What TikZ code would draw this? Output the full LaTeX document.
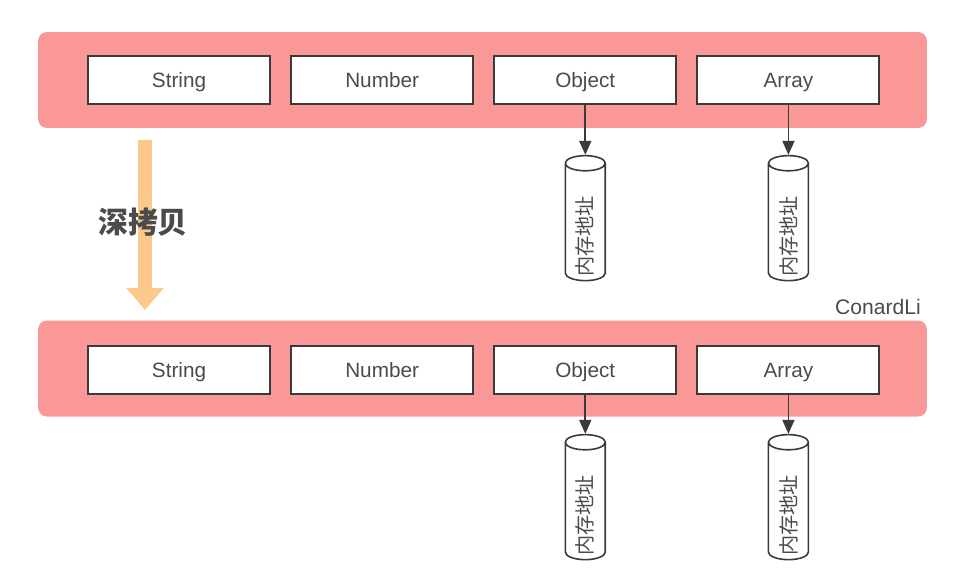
\documentclass[tikz,border=0pt]{standalone}
\usepackage{fontspec}
\setmainfont{Liberation Sans}
\newfontfamily\cjk{Noto Sans CJK SC}
\usepackage{tikz}
\usetikzlibrary{shapes.geometric, arrows.meta, positioning}
\definecolor{bandred}{RGB}{250, 152, 152}
\definecolor{copyorange}{RGB}{252, 200, 140}
\definecolor{inkgray}{RGB}{58, 58, 58}
\definecolor{textgray}{RGB}{75, 75, 75}

\begin{document}
\begin{tikzpicture}[
    x=0.02cm, y=-0.02cm,
    node distance = 0.385cm,
    band/.style   = {rectangle, rounded corners=5pt, fill=bandred, draw=none,
                     minimum width=17.78cm, minimum height=1.92cm},
    field/.style  = {rectangle, draw=inkgray, line width=1.1pt, fill=white,
                     minimum width=3.64cm, minimum height=0.96cm,
                     text height=1.9ex, text depth=0.2ex,
                     font=\fontsize{11.8}{13}\selectfont, text=textgray},
    mem/.style    = {cylinder, rotate=90, draw=inkgray, line width=0.9pt, fill=white,
                     aspect=0.5, minimum height=2.48cm, minimum width=0.8cm,
                     inner xsep=1pt,
                     font=\cjk\fontsize{11.5}{12}\selectfont, text=textgray},
    ptr/.style    = {-{Triangle[length=0.28cm, width=0.24cm]}, line width=1pt, color=inkgray},
    copy/.style   = {-{Triangle[length=0.44cm, width=0.72cm]}, line width=0.28cm, color=copyorange},
  ]
  \useasboundingbox (0,0) rectangle (953,576);

  %% Source object (top)
  \node[band] (srcband) at (482.5,80) {};
  \node[field] (srcstr) at (179,80) {String};
  \node[field, right=of srcstr] (srcnum) {Number};
  \node[field, right=of srcnum] (srcobj) {Object};
  \node[field, right=of srcobj] (srcarr) {Array};

  %% Copied object (bottom)
  \node[band] (dstband) at (482.5,368.5) {};
  \node[field] (dststr) at (179,370) {String};
  \node[field, right=of dststr] (dstnum) {Number};
  \node[field, right=of dstnum] (dstobj) {Object};
  \node[field, right=of dstobj] (dstarr) {Array};

  %% Memory addresses
  \node[mem] (srcobjmem) at (srcobj |- 0,225) {内存地址\hspace*{0.45cm}};
  \node[mem] (srcarrmem) at (srcarr |- 0,225) {内存地址\hspace*{0.45cm}};
  \node[mem] (dstobjmem) at (dstobj |- 0,504) {内存地址\hspace*{0.45cm}};
  \node[mem] (dstarrmem) at (dstarr |- 0,504) {内存地址\hspace*{0.45cm}};

  \draw[ptr] (srcobj.south) -- (srcobjmem.top);
  \draw[ptr] (srcarr.south) -- (srcarrmem.top);
  \draw[ptr] (dstobj.south) -- (dstobjmem.top);
  \draw[ptr] (dstarr.south) -- (dstarrmem.top);

  %% Deep copy arrow
  \coordinate (copyfrom) at (145,140);
  \coordinate (copyto)   at (145,310);
  \draw[copy] (copyfrom) -- (copyto);
  \node[font=\cjk\bfseries\fontsize{17}{19}\selectfont, text=textgray] (copylabel) at (143,222) {深拷贝};

  \node[font=\fontsize{12}{13}\selectfont, text=textgray] (author) at (878,307) {ConardLi};

\end{tikzpicture}
\end{document}
